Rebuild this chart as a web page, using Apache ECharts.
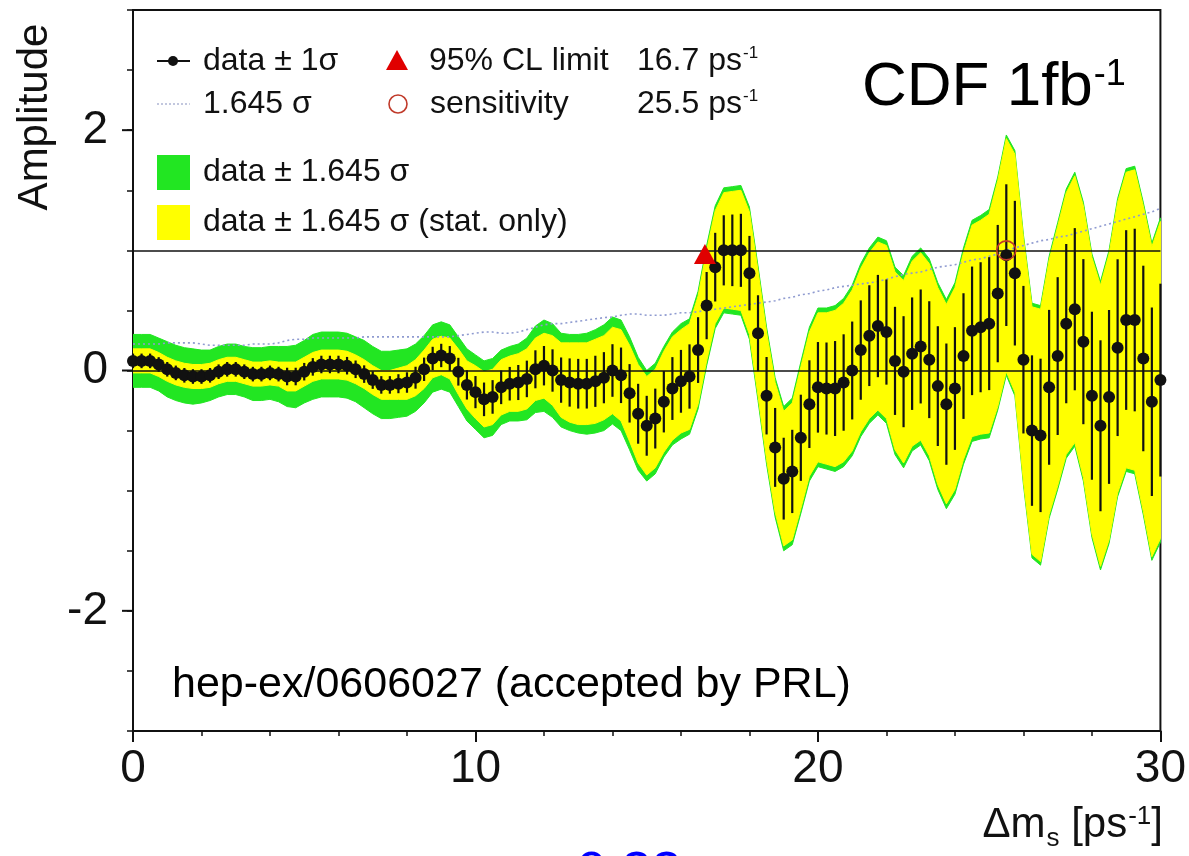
<!DOCTYPE html>
<html>
<head>
<meta charset="utf-8">
<script src="https://cdn.jsdelivr.net/npm/echarts@6/dist/echarts.min.js"></script>
<style>
html,body{margin:0;padding:0;background:#fff;}
#chart{width:1189px;height:856px;}
</style>
</head>
<body>
<div id="chart"></div>
<script>
// Δm_s scan points [ps^-1]
const ms = [
 0,0.25,0.5,0.75, 1,1.25,1.5,1.75, 2,2.25,2.5,2.75, 3,3.25,3.5,3.75,
 4,4.25,4.5,4.75, 5,5.25,5.5,5.75, 6,6.25,6.5,6.75, 7,7.25,7.5,7.75,
 8,8.25,8.5,8.75, 9,9.25,9.5,9.75, 10,10.25,10.5,10.75, 11,11.25,11.5,11.75,
 12,12.25,12.5,12.75, 13,13.25,13.5,13.75, 14,14.25,14.5,14.75, 15,15.25,15.5,15.75,
 16,16.25,16.5,16.75, 17,17.25,17.5,17.75, 18,18.25,18.5,18.75, 19,19.25,19.5,19.75,
 20,20.25,20.5,20.75, 21,21.25,21.5,21.75, 22,22.25,22.5,22.75, 23,23.25,23.5,23.75,
 24,24.25,24.5,24.75, 25,25.25,25.5,25.75, 26,26.25,26.5,26.75, 27,27.25,27.5,27.75,
 28,28.25,28.5,28.75, 29,29.25,29.5,29.75, 30
];
// measured amplitude
const amp = [
 0.08,0.08,0.08,0.05, 0.01,-0.02,-0.04,-0.05, -0.05,-0.04,-0.01,0.01, 0.01,-0.01,-0.03,-0.03,
 -0.02,-0.03,-0.05,-0.05, -0.01,0.03,0.05,0.05, 0.05,0.04,0.01,-0.03, -0.08,-0.12,-0.12,-0.11,
 -0.10,-0.06,0.01,0.10, 0.125,0.10,-0.01,-0.12, -0.18,-0.24,-0.22,-0.14, -0.11,-0.10,-0.07,0.01,
 0.04,0.00,-0.08,-0.10, -0.11,-0.11,-0.09,-0.06, 0.00,-0.04,-0.19,-0.36, -0.46,-0.40,-0.26,-0.15,
 -0.09,-0.05,0.17,0.54, 0.86,1.00,1.00,1.00, 0.81,0.31,-0.21,-0.64, -0.90,-0.84,-0.56,-0.28,
 -0.14,-0.15,-0.15,-0.10, 0.00,0.17,0.29,0.37, 0.32,0.08,-0.01,0.14, 0.20,0.09,-0.13,-0.28,
 -0.15,0.12,0.33,0.36, 0.39,0.64,0.96,0.81, 0.09,-0.50,-0.54,-0.14, 0.12,0.39,0.51,0.24,
 -0.21,-0.46,-0.22,0.19, 0.42,0.42,0.10,-0.26, -0.08
];
// 1.645 sigma (total uncertainty): dotted curve and half width of green band
const tot1645 = [
 0.22,0.22,0.22,0.22, 0.23,0.23,0.23,0.23, 0.22,0.21,0.21,0.21, 0.21,0.21,0.22,0.22,
 0.22,0.23,0.25,0.26, 0.26,0.27,0.27,0.27, 0.27,0.27,0.27,0.28, 0.28,0.28,0.28,0.28,
 0.28,0.28,0.28,0.28, 0.28,0.28,0.29,0.30, 0.31,0.32,0.32,0.31, 0.31,0.32,0.34,0.36,
 0.38,0.39,0.39,0.40, 0.41,0.42,0.43,0.44, 0.445,0.46,0.47,0.47, 0.46,0.46,0.46,0.47,
 0.48,0.48,0.49,0.50, 0.51,0.52,0.53,0.54, 0.55,0.56,0.57,0.58, 0.60,0.61,0.63,0.64,
 0.66,0.67,0.69,0.70, 0.71,0.72,0.73,0.74, 0.76,0.78,0.80,0.81, 0.82,0.84,0.86,0.87,
 0.88,0.90,0.92,0.93, 0.95,0.97,1.00,1.02, 1.04,1.06,1.08,1.09, 1.11,1.12,1.14,1.16,
 1.18,1.20,1.22,1.24, 1.26,1.28,1.30,1.32, 1.35
];
// 1.645 sigma (statistical only): half width of yellow band
const stat1645 = [
 0.10,0.10,0.10,0.10, 0.10,0.10,0.10,0.10, 0.10,0.10,0.10,0.10, 0.10,0.10,0.10,0.10,
 0.10,0.10,0.12,0.12, 0.12,0.12,0.12,0.12, 0.12,0.12,0.12,0.12, 0.12,0.12,0.12,0.13,
 0.14,0.15,0.16,0.16, 0.16,0.17,0.19,0.20, 0.22,0.23,0.23,0.23, 0.23,0.24,0.25,0.26,
 0.27,0.29,0.31,0.33, 0.34,0.34,0.35,0.35, 0.36,0.38,0.40,0.41, 0.41,0.41,0.42,0.43,
 0.43,0.44,0.45,0.46, 0.47,0.48,0.49,0.50, 0.51,0.52,0.53,0.54, 0.56,0.57,0.59,0.60,
 0.62,0.63,0.65,0.66, 0.67,0.68,0.69,0.70, 0.72,0.74,0.76,0.77, 0.78,0.80,0.82,0.83,
 0.84,0.86,0.88,0.89, 0.91,0.94,0.97,0.99, 1.01,1.03,1.05,1.06, 1.08,1.09,1.11,1.13,
 1.15,1.17,1.19,1.21, 1.23,1.25,1.27,1.29, 1.32
];
const CL = 1.645;
const limitPoint = [[16.7, 0.97]];
const sensitivityPoint = [[25.5, 1.0]];
const refLines = [0, 1];
const yMajorTicks = [-2, 0, 2];

const FONT = "'Liberation Sans', Arial, Helvetica, sans-serif";
const INK = '#111';
const GREEN = '#22e622';
const YELLOW = '#ffff00';

const chart = echarts.init(document.getElementById('chart'), null, {renderer: 'canvas'});

function band(half, color, z) {
  return {
    type: 'custom', z: z, silent: true, clip: true,
    data: [[ms[0], amp[0]]],
    encode: {x: 0, y: 1},
    renderItem: function (params, api) {
      const up = ms.map((x, i) => api.coord([x, amp[i] + half[i]]));
      const lo = ms.map((x, i) => api.coord([x, amp[i] - half[i]])).reverse();
      return {type: 'polygon', shape: {points: up.concat(lo)}, style: {fill: color, stroke: color, lineWidth: 1}};
    }
  };
}

function txt(x, y, text, size, extra) {
  return {
    type: 'text', x: x, y: y, silent: true,
    style: Object.assign({
      text: text, fontSize: size, fontFamily: FONT, fill: INK,
      align: 'left', verticalAlign: 'middle', textAlign: 'left', textVerticalAlign: 'middle'
    }, extra || {})
  };
}

const supRich = function (size) {
  return {s: {fontSize: size, fontFamily: FONT, fill: INK, verticalAlign: 'top', padding: [0, 0, 0, 1]}};
};

const LEG = 32;

const option = {
  backgroundColor: '#fff',
  animation: false,
  grid: {left: 133, right: 23, top: 10, bottom: 125, show: true, borderColor: INK, borderWidth: 2, backgroundColor: 'transparent'},
  xAxis: {
    type: 'value', min: 0, max: 30, interval: 10,
    axisLine: {show: true, onZero: false, lineStyle: {color: INK, width: 2}},
    axisTick: {show: true, length: 11, lineStyle: {color: INK, width: 2}},
    minorTick: {show: true, splitNumber: 5, length: 5, lineStyle: {color: INK, width: 1.5}},
    axisLabel: {fontSize: 46, fontFamily: FONT, color: INK, margin: 15},
    splitLine: {show: false}
  },
  yAxis: {
    type: 'value', min: -3, max: 3, interval: 0.5,
    axisLine: {show: true, onZero: false, lineStyle: {color: INK, width: 2}},
    axisTick: {show: true, length: 6, lineStyle: {color: INK, width: 1.5}},
    axisLabel: {
      fontSize: 46, fontFamily: FONT, color: INK, margin: 25,
      formatter: v => (yMajorTicks.indexOf(v) >= 0 ? String(v) : '')
    },
    splitLine: {show: false}
  },
  series: [
    band(tot1645, GREEN, 1),
    band(stat1645, YELLOW, 2),
    {
      type: 'line', z: 3, silent: true, showSymbol: false, symbol: 'none',
      data: ms.map((x, i) => [x, tot1645[i]]),
      lineStyle: {color: '#8f9bd0', width: 1.6, type: [2, 3]},
      markLine: {
        silent: true, symbol: 'none', label: {show: false},
        lineStyle: {color: INK, width: 1.5, type: 'solid'},
        data: refLines.map(v => ({yAxis: v}))
      }
    },
    {
      type: 'custom', z: 4, silent: true,
      data: ms.map((x, i) => [x, amp[i] - stat1645[i] / CL, amp[i] + stat1645[i] / CL]),
      encode: {x: 0, y: [1, 2]},
      renderItem: function (params, api) {
        const a = api.coord([api.value(0), api.value(1)]);
        const b = api.coord([api.value(0), api.value(2)]);
        return {type: 'line', shape: {x1: a[0], y1: a[1], x2: b[0], y2: b[1]}, style: {stroke: INK, lineWidth: 2.2}};
      }
    },
    {
      type: 'scatter', z: 5, silent: true, symbol: 'circle', symbolSize: 12,
      data: ms.map((x, i) => [x, amp[i]]),
      itemStyle: {color: INK, opacity: 1}
    },
    {
      type: 'scatter', z: 6, silent: true, symbol: 'triangle', symbolSize: [22, 20],
      data: limitPoint, itemStyle: {color: '#e00000', opacity: 1}
    },
    {
      type: 'scatter', z: 6, silent: true, symbol: 'circle', symbolSize: 19,
      data: sensitivityPoint,
      itemStyle: {color: 'rgba(0,0,0,0)', borderColor: '#c03a2a', borderWidth: 1.6, opacity: 1}
    },
    {
      type: 'custom', z: 10, silent: true, clip: false,
      data: yMajorTicks.map(v => [0, v]),
      encode: {x: 0, y: 1},
      renderItem: function (params, api) {
        const p = api.coord([0, api.value(1)]);
        return {type: 'line', shape: {x1: p[0] - 11, y1: p[1], x2: p[0], y2: p[1]}, style: {stroke: INK, lineWidth: 2}};
      }
    }
  ],
  graphic: [
    // legend row 1
    {type: 'line', silent: true, shape: {x1: 157, y1: 61, x2: 190, y2: 61}, style: {stroke: INK, lineWidth: 2}},
    {type: 'circle', silent: true, shape: {cx: 173, cy: 61, r: 5}, style: {fill: INK}},
    txt(203, 61, 'data \u00b1 1\u03c3', LEG),
    {type: 'polygon', silent: true, shape: {points: [[386, 70], [408, 70], [397, 50]]}, style: {fill: '#e00000'}},
    txt(429, 61, '95% CL limit', LEG),
    txt(637, 61, '16.7 ps{s|-1}', LEG, {rich: supRich(17)}),
    // legend row 2
    {type: 'line', silent: true, shape: {x1: 157, y1: 104, x2: 190, y2: 104}, style: {stroke: '#9aa3c8', lineWidth: 1.2, lineDash: [2, 2]}},
    txt(203, 104, '1.645 \u03c3', LEG),
    {type: 'circle', silent: true, shape: {cx: 398, cy: 104, r: 9}, style: {fill: 'none', stroke: '#c03a2a', lineWidth: 1.6}},
    txt(430, 104, 'sensitivity', LEG),
    txt(637, 104, '25.5 ps{s|-1}', LEG, {rich: supRich(17)}),
    // legend rows 3 and 4
    {type: 'rect', silent: true, shape: {x: 157, y: 155, width: 33, height: 35}, style: {fill: GREEN}},
    txt(203, 172, 'data \u00b1 1.645 \u03c3', LEG),
    {type: 'rect', silent: true, shape: {x: 157, y: 205, width: 33, height: 35}, style: {fill: YELLOW}},
    txt(203, 222, 'data \u00b1 1.645 \u03c3 (stat. only)', LEG),
    // annotations
    txt(862, 88, 'CDF 1fb{s|-1}', 62, {fill: '#000', rich: {s: {fontSize: 36, fontFamily: FONT, fill: '#000', verticalAlign: 'top', padding: [0, 0, 0, 1]}}}),
    txt(172, 685, 'hep-ex/0606027 (accepted by PRL)', 43, {fill: '#000'}),
    // axis titles
    {type: 'text', silent: true, x: 35, y: 117, rotation: Math.PI / 2,
      style: {text: 'Amplitude', fontSize: 42, fontFamily: FONT, fill: INK, align: 'center', verticalAlign: 'middle', textAlign: 'center', textVerticalAlign: 'middle'}},
    txt(1163, 804, '{m|\u0394m}{b|s}{m| [ps}{t|-1}{m|]}', 42, {
      align: 'right', textAlign: 'right', verticalAlign: 'top', textVerticalAlign: 'top',
      rich: {
        m: {fontSize: 42, lineHeight: 44, fontFamily: FONT, fill: INK, verticalAlign: 'top'},
        b: {fontSize: 26, lineHeight: 26, fontFamily: FONT, fill: INK, verticalAlign: 'top', padding: [22, 0, 0, 1]},
        t: {fontSize: 26, lineHeight: 26, fontFamily: FONT, fill: INK, verticalAlign: 'top', padding: [0, 0, 0, 1]}
      }
    }),
    // cropped blue text at the bottom edge
    txt(545, 847, '+0.33', 54, {fill: '#0000ff', verticalAlign: 'top', textVerticalAlign: 'top'})
  ]
};
chart.setOption(option);
</script>
</body>
</html>
